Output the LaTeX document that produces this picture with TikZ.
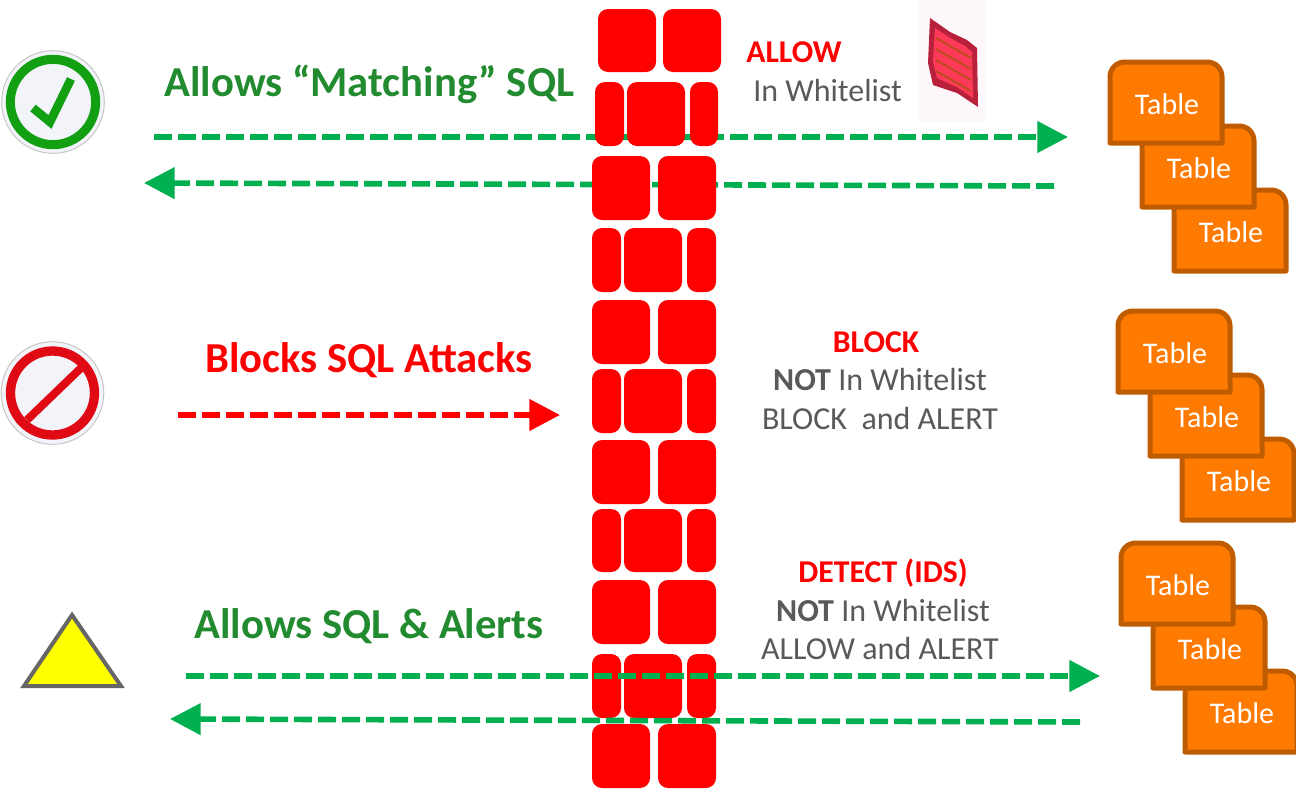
\documentclass[tikz,border=0pt]{standalone}
\usepackage{fontspec}
\setmainfont{Carlito}
\usetikzlibrary{arrows.meta}
\definecolor{wallred}{HTML}{FF0000}
\definecolor{flow}{HTML}{00B050}
\definecolor{headgreen}{HTML}{228B30}
\definecolor{graytxt}{HTML}{595959}
\definecolor{tblfill}{HTML}{FF7A00}
\definecolor{tbledge}{HTML}{C05C00}
\definecolor{okgreen}{HTML}{12A012}
\definecolor{nored}{HTML}{E00A14}
\definecolor{iconface}{HTML}{F2F4FA}
\definecolor{warnyellow}{HTML}{FFFF00}
\definecolor{thumbedge}{HTML}{B8203C}
\definecolor{thumbfill}{HTML}{FF3A58}
\definecolor{thumbline}{HTML}{C04A20}
\definecolor{thumbback}{HTML}{FEF8FB}
\tikzset{
  x=0.75pt,y=-0.75pt,
  brick/.style={fill=wallred,draw=none,inner sep=0pt,outer sep=0pt,rounded corners=7.5pt},
  flowline/.style={draw=flow,line width=4.2pt,dash pattern=on 13.5pt off 4.5pt,-{Triangle[length=23pt,width=23pt]}},
  blockline/.style={flowline,draw=wallred},
  headg/.style={inner sep=0pt,anchor=base west,text=headgreen,font=\fontsize{32}{36}\selectfont\bfseries},
  headr/.style={inner sep=0pt,anchor=base west,text=wallred,font=\fontsize{32}{36}\selectfont\bfseries},
  redlab/.style={inner sep=0pt,anchor=base,text=wallred,font=\fontsize{23.8}{28}\selectfont\bfseries},
  graylab/.style={inner sep=0pt,anchor=base,text=graytxt,font=\fontsize{24}{28}\selectfont},
  tbl/.style={draw=tbledge,fill=tblfill,line width=3.75pt,line join=round},
  tbllab/.style={inner sep=0pt,anchor=base,text=white,font=\fontsize{22.5}{26}\selectfont},
  iconring/.style={circle,draw=black!22,fill=iconface,line width=0.75pt,minimum size=77pt,inner sep=0pt},
}
% name, x1, y1, x2, y2 in reference pixels
\newcommand{\brickbox}[5]{%
  \pgfmathsetmacro{\bw}{(#4-#2)*0.75}\pgfmathsetmacro{\bh}{(#5-#3)*0.75}%
  \node[brick,minimum width=\bw pt,minimum height=\bh pt] (#1) at ({(#2+#4)/2},{(#3+#5)/2}) {};}
\newcommand{\wholerow}[3]{% name,y1,y2
  \brickbox{#1a}{592}{#2}{650}{#3}\brickbox{#1b}{658}{#2}{716}{#3}}
\newcommand{\splitrow}[3]{%
  \brickbox{#1a}{592}{#2}{621}{#3}\brickbox{#1b}{624}{#2}{682}{#3}\brickbox{#1c}{687}{#2}{716}{#3}}
% name, x, y of the top left corner
\newcommand{\tablebox}[3]{%
  \draw[tbl] (#2,#3+81) [rounded corners=11pt] -- (#2,#3) -- (#2+112,#3) [sharp corners] -- (#2+112,#3+81) -- cycle;
  \node[tbllab] (#1) at (#2+57,#3+52) {Table};}
\newcommand{\tablestack}[3]{%
  \tablebox{#1c}{#2+64}{#3+128}\tablebox{#1b}{#2+32}{#3+64}\tablebox{#1a}{#2}{#3}}
\begin{document}
\begin{tikzpicture}
\useasboundingbox (0,0) rectangle (1296,790);
% coordinates for the connectors
\coordinate (a1s) at (154,137); \coordinate (a1e) at (1068,137);
\coordinate (a2s) at (1054,186); \coordinate (a2e) at (144,183);
\coordinate (rs) at (178,415); \coordinate (re) at (560,415);
\coordinate (b1s) at (186,676); \coordinate (b1e) at (1100,676);
\coordinate (b2s) at (1080,722); \coordinate (b2e) at (170,719);
% connectors behind the wall
\draw[flowline] (a1s) -- (a1e);
\draw[flowline] (a2s) -- (a2e);
\draw[blockline] (rs) -- (re);
% wall
\brickbox{r1a}{598}{9}{656}{72}\brickbox{r1b}{663}{9}{721}{72}
\brickbox{r2a}{595}{82}{624}{146}\brickbox{r2b}{627}{82}{685}{146}\brickbox{r2c}{690}{82}{718}{146}
\wholerow{r3}{156}{220}
\splitrow{r4}{228}{292}
\wholerow{r5}{300}{364}
\splitrow{r6}{369}{433}
\wholerow{r7}{440}{504}
\splitrow{r8}{509}{572}
\wholerow{r9}{580}{644}
\splitrow{r10}{654}{718}
\wholerow{r11}{724}{788}
% connectors in front of the wall
\draw[flowline] (b1s) -- (b1e);
\draw[flowline] (b2s) -- (b2e);
% check icon
\node[iconring] (chk) at (53,102) {};
\node[circle,draw=okgreen,line width=6.8pt,minimum size=64pt,inner sep=0pt] (chkr) at (53,102) {};
\draw[draw=okgreen,line width=6.5pt] (33,108) -- (50,122) -- (71,79);
% no-entry icon
\node[iconring] (no) at (52.5,393) {};
\node[circle,draw=nored,line width=7pt,minimum size=63pt,inner sep=0pt] (nor) at (52.5,393) {};
\draw[draw=nored,line width=6pt] (27,420) -- (82,367);
% warning triangle
\draw[fill=warnyellow,draw=black!60,line width=3pt,line join=miter] (72,615) -- (121,686) -- (24,686) -- cycle;
% whitelist thumbnail
\fill[thumbback] (919,0) rectangle (985,122);
\fill[thumbedge] (930,18) -- (950,32) -- (967,40) -- (977,48) -- (978,107) -- (957,93) -- (933,85) -- (928,63) -- cycle;
\fill[thumbfill] (935,28) -- (950,38) -- (965,46) -- (972,52) -- (973,98) -- (957,87) -- (937,78) -- (933,62) -- cycle;
\foreach \k in {0,1,2,3}{\draw[thumbline,line width=1.6pt] (936,38+\k*11) -- (971,58+\k*11);}
% headings
\node[headg] (h1) at (164,96) {Allows “Matching” SQL};
\node[headr] (h2) at (205,372) {Blocks SQL Attacks};
\node[headg] (h3) at (194,638) {Allows SQL \& Alerts};
% notes
\node[redlab,anchor=base west] (t1) at (746,62) {ALLOW};
\node[graylab,anchor=base west] (t2) at (753,101) {In Whitelist};
\node[redlab] (t3) at (876,352) {BLOCK};
\node[graylab] (t4) at (880,390) {\textbf{NOT} In Whitelist};
\node[graylab] (t5) at (880,429) {BLOCK\ \ and ALERT};
\node[redlab] (t6) at (883,582) {DETECT (IDS)};
\node[graylab] (t7) at (883,621) {\textbf{NOT} In Whitelist};
\node[graylab] (t8) at (880,659) {ALLOW and ALERT};
% tables
\tablestack{s1}{1110}{62}
\tablestack{s2}{1118}{311}
\tablestack{s3}{1121}{543}
\end{tikzpicture}
\end{document}
